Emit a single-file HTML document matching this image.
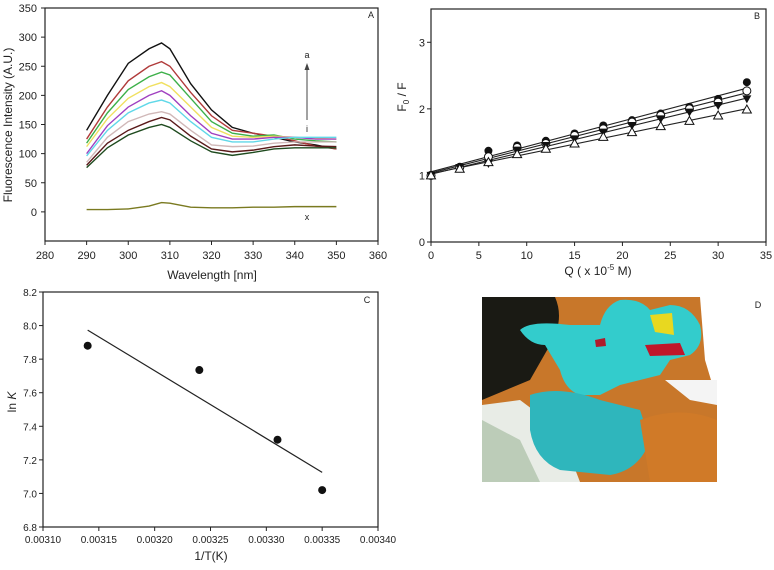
<!DOCTYPE html>
<html><head><meta charset="utf-8"><style>
html,body{margin:0;padding:0;background:#fff;width:774px;height:570px;overflow:hidden}
text{font-family:"Liberation Sans",Arial,sans-serif;fill:#222}
</style></head><body>
<svg id="fig" width="774" height="570" viewBox="0 0 774 570" xmlns="http://www.w3.org/2000/svg">
<g id="panelD">
  <rect x="482" y="297" width="235" height="185" fill="#c8772a"/>
  <path d="M482 297 L555 297 Q565 320 550 345 L530 380 L482 400 Z" fill="#1a1a14"/>
  <path d="M482 405 L520 400 L560 430 L580 482 L482 482 Z" fill="#e8ece6"/>
  <path d="M482 420 L520 440 L540 482 L482 482 Z" fill="#9fb89a" opacity="0.6"/>
  <path d="M520 330 Q530 320 570 325 L600 325 Q605 305 620 300 Q640 298 650 310 L670 305 Q690 305 700 325 Q705 345 690 355 L670 360 L660 375 L620 385 L600 395 L580 395 Q565 390 560 370 L545 345 Q530 345 520 330 Z" fill="#33cccc"/>
  <path d="M530 395 Q560 385 600 400 L640 410 L650 440 Q640 470 610 475 L560 470 Q535 460 530 430 Z" fill="#2fb6bc"/>
  <path d="M650 315 L672 313 L674 335 L655 332 Z" fill="#e8d820"/>
  <path d="M645 345 L680 343 L685 355 L650 356 Z" fill="#c0162a"/>
  <path d="M595 340 L605 338 L606 346 L596 347 Z" fill="#b01a2a"/>
  <path d="M640 420 Q680 405 717 420 L717 482 L650 482 Z" fill="#d07a28"/>
  <path d="M700 297 L717 297 L717 400 L705 360 Z" fill="#fff"/>
  <path d="M665 380 L717 380 L717 405 L690 400 Z" fill="#f4f4f4"/>
  <text x="758" y="308" font-size="9" text-anchor="middle">D</text>
</g>
</svg>
<script>
// ---------- Panel A data ----------
const wavelengths=[290,295,300,305,308,310,315,320,325,330,335,340,345,350];
const curveA=[140,200,255,280,290,280,220,175,145,135,128,120,115,108];
const curveB=[125,180,225,250,258,250,205,165,140,135,130,122,113,108];
const curveC=[118,170,210,232,240,235,195,155,135,130,132,125,122,120];
const curveD=[112,160,195,215,222,215,180,145,130,128,130,128,126,125];
const curveE=[100,148,180,200,208,200,165,135,125,125,128,128,125,125];
const curveF=[96,140,170,187,192,187,155,128,120,120,125,128,128,128];
const curveG=[85,128,155,168,172,168,140,115,112,113,118,120,120,120];
const curveH=[80,118,140,155,162,158,130,108,103,106,112,115,113,112];
const curveI=[76,110,132,145,150,145,122,103,97,102,108,110,110,110];
const curveX=[4,4,5,10,16,15,8,7,7,8,8,9,9,9];
const aXTicks=[280,290,300,310,320,330,340,350,360];
const aYTicks=[0,50,100,150,200,250,300,350];
// ---------- Panel B data ----------
const quencher=[0,3,6,9,12,15,18,21,24,27,30,33];
const fFilledCircle=[1,1.13,1.37,1.45,1.52,1.63,1.75,1.83,1.93,2.03,2.15,2.4];
const fOpenCircle=[1,1.12,1.28,1.42,1.48,1.6,1.7,1.8,1.9,2.0,2.1,2.27];
const fFilledTri=[1,1.12,1.18,1.38,1.45,1.55,1.65,1.75,1.85,1.95,2.05,2.15];
const fOpenTri=[1,1.1,1.2,1.32,1.4,1.48,1.58,1.65,1.74,1.82,1.9,1.99];
const bXTicks=[0,5,10,15,20,25,30,35];
const bYTicks=[0,1,2,3];
// ---------- Panel C data ----------
const invT=[0.00314,0.00324,0.00331,0.00335];
const lnK=[7.88,7.735,7.32,7.02];
const cXTicks=["0.00310","0.00315","0.00320","0.00325","0.00330","0.00335","0.00340"];
const cYTicks=["6.8","7.0","7.2","7.4","7.6","7.8","8.0","8.2"];

const NS="http://www.w3.org/2000/svg";
const svg=document.getElementById('fig');
function mk(tag,attrs,parent,txt){const e=document.createElementNS(NS,tag);for(const k in attrs)e.setAttribute(k,attrs[k]);if(txt!==undefined)e.textContent=txt;(parent||svg).appendChild(e);return e;}
function scale(d0,d1,r0,r1){return v=>r0+(v-d0)/(d1-d0)*(r1-r0);}
function frame(g,L,T,R,B){const f=mk('rect',{x:L,y:T,width:R-L,height:B-T,fill:'none',stroke:'#222','stroke-width':1.2},g);

}
function fit(xs,ys){const n=xs.length;const mx=xs.reduce((a,b)=>a+b)/n,my=ys.reduce((a,b)=>a+b)/n;let sxy=0,sxx=0;for(let i=0;i<n;i++){sxy+=(xs[i]-mx)*(ys[i]-my);sxx+=(xs[i]-mx)**2;}const m=sxy/sxx;return [m,my-m*mx];}

// ===== Panel A =====
(function(){
const g=mk('g',{});


const L=45,T=8,R=378,B=241;
const x=scale(280,360,L,R), y=scale(-50,350,B,T);
frame(g,L,T,R,B);
aXTicks.forEach(t=>{mk('line',{x1:x(t),x2:x(t),y1:B,y2:B+4,stroke:'#222'},g);
const tl=mk('text',{x:x(t),y:B+18,'font-size':11,'text-anchor':'middle'},g,t);

});
aYTicks.forEach(t=>{mk('line',{x1:L-4,x2:L,y1:y(t),y2:y(t),stroke:'#222'},g);
const tl=mk('text',{x:L-8,y:y(t)+4,'font-size':11,'text-anchor':'end'},g,t);

});
const series=[[curveA,'#111'],[curveB,'#b03a3a'],[curveC,'#3db04a'],[curveD,'#f0e060'],[curveE,'#a040c0'],[curveF,'#60d8e8'],[curveG,'#d0b8b8'],[curveH,'#5a1a1a'],[curveI,'#1e4a1e'],[curveX,'#7a7a20']];
series.forEach((s,i)=>{const p=mk('polyline',{points:wavelengths.map((w,j)=>x(w)+','+y(s[0][j])).join(' '),fill:'none',stroke:s[1],'stroke-width':1.4},g);

});
const yl=mk('text',{x:0,y:0,'font-size':12,'text-anchor':'middle',transform:'translate(12,125) rotate(-90)'},g,'Fluorescence Intensity (A.U.)');


const xl=mk('text',{x:212,y:279,'font-size':12,'text-anchor':'middle'},g,'Wavelength [nm]');


const ar=mk('line',{x1:307,y1:120,x2:307,y2:68,stroke:'#444'},g);


mk('path',{d:'M304.5 70 L307 63 L309.5 70 Z',fill:'#444'},g);
[['a',307,58],['i',307,132],['x',307,220],['A',371,18]].forEach(l=>{const t=mk('text',{x:l[1],y:l[2],'font-size':9,'text-anchor':'middle'},g,l[0]);

});
})();

// ===== Panel B =====
(function(){
const g=mk('g',{});


const L=431,T=9,R=766,B=242;
const x=scale(0,35,L,R), y=scale(0,3.5,B,T);
frame(g,L,T,R,B);
bXTicks.forEach(t=>{mk('line',{x1:x(t),x2:x(t),y1:B,y2:B+4,stroke:'#222'},g);
const tl=mk('text',{x:x(t),y:B+17,'font-size':11,'text-anchor':'middle'},g,t);

});
bYTicks.forEach(t=>{mk('line',{x1:L-4,x2:L,y1:y(t),y2:y(t),stroke:'#222'},g);
const tl=mk('text',{x:L-6,y:y(t)+4,'font-size':11,'text-anchor':'end'},g,t);

});
const sets=[[fFilledCircle,'fc'],[fOpenCircle,'oc'],[fFilledTri,'ft'],[fOpenTri,'ot']];
sets.forEach(s=>{const [m,b]=fit(quencher,s[0]);const q0=quencher[0],q1=quencher[quencher.length-1];
const ln=mk('line',{x1:x(q0),y1:y(b+m*q0),x2:x(q1),y2:y(b+m*q1),stroke:'#222','stroke-width':1.1},g);

});
sets.forEach(s=>{s[0].forEach((v,i)=>{const cx=x(quencher[i]),cy=y(v);let e;
if(s[1]==='fc')e=mk('circle',{cx,cy,r:4,fill:'#111'},g);
else if(s[1]==='oc')e=mk('circle',{cx,cy,r:4,fill:'#fff',stroke:'#111'},g);
else if(s[1]==='ft')e=mk('path',{d:`M${cx-4.5} ${cy-3.5} L${cx+4.5} ${cy-3.5} L${cx} ${cy+4.5} Z`,fill:'#111'},g);
else e=mk('path',{d:`M${cx-4.5} ${cy+3.5} L${cx+4.5} ${cy+3.5} L${cx} ${cy-4.5} Z`,fill:'#fff',stroke:'#111'},g);

});});
const yl=mk('text',{x:0,y:0,'font-size':12,'text-anchor':'middle',transform:'translate(406,97) rotate(-90)'},g);


yl.innerHTML='F<tspan font-size="8" dy="3">0</tspan><tspan dy="-3"> / F</tspan>';
const xl=mk('text',{x:598,y:275,'font-size':12,'text-anchor':'middle'},g);


xl.innerHTML='Q ( x 10<tspan font-size="8" dy="-5">-5</tspan><tspan dy="5"> M)</tspan>';
const lb=mk('text',{x:757,y:19,'font-size':9,'text-anchor':'middle'},g,'B');


})();

// ===== Panel C =====
(function(){
const g=mk('g',{});


const L=43,T=292,R=378,B=527;
const x=scale(0.0031,0.0034,L,R), y=scale(6.8,8.2,B,T);
frame(g,L,T,R,B);
cXTicks.forEach(t=>{const v=parseFloat(t);mk('line',{x1:x(v),x2:x(v),y1:B,y2:B+4,stroke:'#222'},g);
const tl=mk('text',{x:x(v),y:B+16,'font-size':10,'text-anchor':'middle'},g,t);

});
cYTicks.forEach(t=>{const v=parseFloat(t);mk('line',{x1:L-4,x2:L,y1:y(v),y2:y(v),stroke:'#222'},g);
const tl=mk('text',{x:L-6,y:y(v)+4,'font-size':10,'text-anchor':'end'},g,t);

});
const [m,b]=fit(invT,lnK);const x0=invT[0],x1=invT[invT.length-1];
const ln=mk('line',{x1:x(x0),y1:y(b+m*x0),x2:x(x1),y2:y(b+m*x1),stroke:'#222','stroke-width':1.2},g);


invT.forEach((v,i)=>{const c=mk('circle',{cx:x(v),cy:y(lnK[i]),r:4,fill:'#111'},g);

});
const yl=mk('text',{x:0,y:0,'font-size':12,'text-anchor':'middle',transform:'translate(16,402) rotate(-90)'},g);


yl.innerHTML='ln <tspan font-style="italic">K</tspan>';
const xl=mk('text',{x:211,y:560,'font-size':12,'text-anchor':'middle'},g,'1/T(K)');


const lb=mk('text',{x:367,y:303,'font-size':9,'text-anchor':'middle'},g,'C');


})();
</script>
</body></html>
